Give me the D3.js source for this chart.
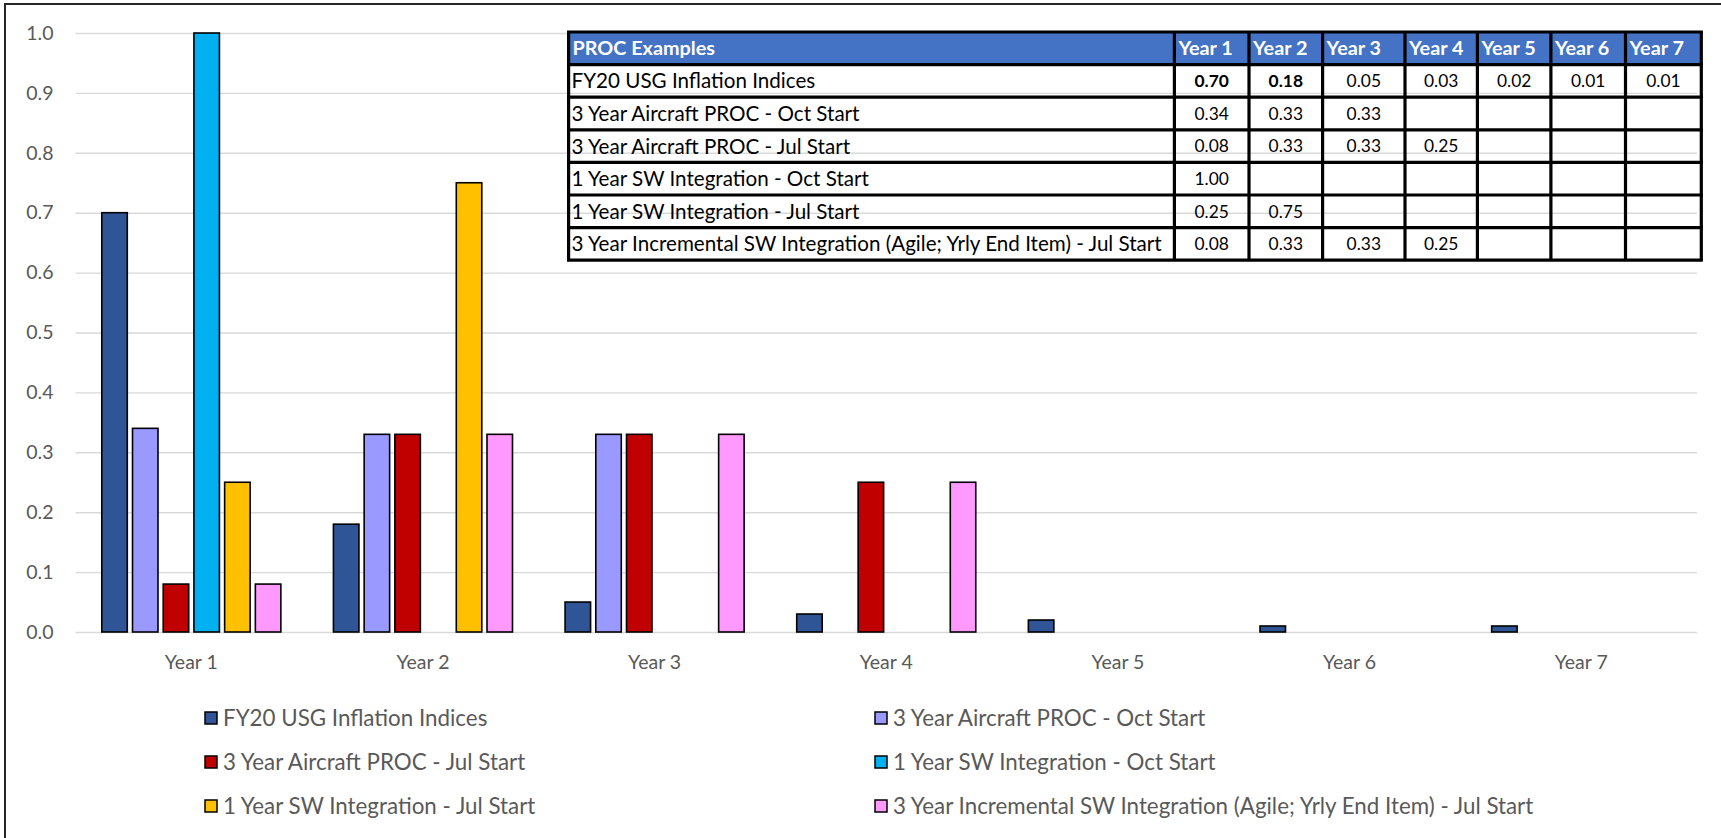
<!DOCTYPE html>
<html>
<head>
<meta charset="utf-8">
<script src="https://cdn.jsdelivr.net/npm/d3@7"></script>
<style>
  html, body { margin: 0; padding: 0; background: #fff; }
  svg { display: block; }
  text { font-family: Lato, "Open Sans", sans-serif; }
</style>
</head>
<body>
<svg id="chart" width="1721" height="838"></svg>
<script>
// ---- data -------------------------------------------------------------
const years = ["Year 1", "Year 2", "Year 3", "Year 4", "Year 5", "Year 6", "Year 7"];
const seriesNames = [
  "FY20 USG Inflation Indices",
  "3 Year Aircraft PROC - Oct Start",
  "3 Year Aircraft PROC - Jul Start",
  "1 Year SW Integration - Oct Start",
  "1 Year SW Integration - Jul Start",
  "3 Year Incremental SW Integration (Agile; Yrly End Item) - Jul Start"
];
const inflationIndices = [0.70, 0.18, 0.05, 0.03, 0.02, 0.01, 0.01];
const aircraftOct      = [0.34, 0.33, 0.33, null, null, null, null];
const aircraftJul      = [0.08, 0.33, 0.33, 0.25, null, null, null];
const swOct            = [1.00, null, null, null, null, null, null];
const swJul            = [0.25, 0.75, null, null, null, null, null];
const incrementalJul   = [0.08, 0.33, 0.33, 0.25, null, null, null];
const yTicks = [0, 0.1, 0.2, 0.3, 0.4, 0.5, 0.6, 0.7, 0.8, 0.9, 1.0];
const tableTitle = "PROC Examples";

const seriesValues = [inflationIndices, aircraftOct, aircraftJul, swOct, swJul, incrementalJul];
const colors = ["#2F5597", "#9999FF", "#C00000", "#00B0F0", "#FFC000", "#FF99FF"];

// ---- layout -----------------------------------------------------------
const svg = d3.select("#chart");
const plot = { left: 75.5, right: 1697, top: 33, bottom: 632 };
const textGrey = "#595959";

// outer frame (top and left edges)
svg.append("path")
  .attr("d", "M5,838V4H1721")
  .attr("fill", "none")
  .attr("stroke", "#262626")
  .attr("stroke-width", 2);

const x0 = d3.scaleBand()
  .domain(years)
  .range([plot.left, plot.right])
  .paddingInner(0.227)
  .paddingOuter(0.1135);

const x1 = d3.scaleBand()
  .domain(seriesNames)
  .range([0, x0.bandwidth()])
  .paddingInner(0.17);

const y = d3.scaleLinear().domain([0, 1]).range([plot.bottom, plot.top]);

// y axis with gridlines
const yAxis = svg.append("g")
  .attr("transform", `translate(${plot.left},0)`)
  .call(d3.axisLeft(y)
    .tickValues(yTicks)
    .tickSize(-(plot.right - plot.left))
    .tickPadding(22)
    .tickFormat(d3.format(".1f")));
yAxis.select(".domain").remove();
yAxis.selectAll(".tick line").attr("stroke", "#D9D9D9").attr("stroke-width", 1.4);
yAxis.selectAll(".tick text")
  .attr("fill", textGrey)
  .style("font-size", "19.5px");

// x axis labels
const xAxis = svg.append("g")
  .attr("transform", `translate(0,${plot.bottom})`)
  .call(d3.axisBottom(x0).tickSize(0).tickPadding(23));
xAxis.select(".domain").remove();
xAxis.selectAll(".tick text")
  .attr("fill", textGrey)
  .style("font-size", "19.5px");

// bars
const barData = [];
years.forEach((yr, i) => {
  seriesNames.forEach((s, j) => {
    const v = seriesValues[j][i];
    if (v !== null) barData.push({ year: yr, series: s, value: v, color: colors[j] });
  });
});

svg.append("g").selectAll("rect")
  .data(barData)
  .join("rect")
  .attr("x", d => x0(d.year) + x1(d.series))
  .attr("y", d => y(d.value))
  .attr("width", x1.bandwidth())
  .attr("height", d => y(0) - y(d.value))
  .attr("fill", d => d.color)
  .attr("stroke", "#000")
  .attr("stroke-width", 1.6);

// legend: two columns, three rows
const legendCols = [205, 875];
const legendRows = [718, 762, 806];
const legend = svg.append("g").selectAll("g")
  .data(seriesNames)
  .join("g")
  .attr("transform", (d, i) => `translate(${legendCols[i % 2]},${legendRows[Math.floor(i / 2)]})`);
legend.append("rect")
  .attr("x", 0).attr("y", -6)
  .attr("width", 12).attr("height", 12)
  .attr("fill", (d, i) => colors[i])
  .attr("stroke", "#000")
  .attr("stroke-width", 1.5);
legend.append("text")
  .attr("x", 18)
  .attr("dy", "0.35em")
  .attr("fill", textGrey)
  .style("font-size", "22.35px")
  .text(d => d);

// ---- data table -------------------------------------------------------
const colEdges = [568.6, 1174.4, 1249, 1322.6, 1405, 1477.4, 1550.9, 1625.5, 1701.3];
const tableTop = 32;
const rowH = 32.6;
const table = svg.append("g");
const fmt = d3.format(".2f");

// header row
table.append("rect")
  .attr("x", colEdges[0]).attr("y", tableTop)
  .attr("width", colEdges[colEdges.length - 1] - colEdges[0])
  .attr("height", rowH)
  .attr("fill", "#4472C4");
const headers = [tableTitle].concat(years);
table.selectAll("text.hdr")
  .data(headers)
  .join("text")
  .attr("class", "hdr")
  .attr("x", (d, i) => colEdges[i] + 4)
  .attr("y", tableTop + rowH / 2)
  .attr("dy", "0.36em")
  .attr("fill", "#fff")
  .style("font-size", "19.8px")
  .style("font-weight", "bold")
  .text(d => d);

// body rows
seriesNames.forEach((name, r) => {
  const ry = tableTop + rowH * (r + 1);
  const row = table.append("g");
  row.append("text")
    .attr("x", colEdges[0] + 3)
    .attr("y", ry + rowH / 2)
    .attr("dy", "0.36em")
    .attr("fill", "#000")
    .style("font-size", "20.6px")
    .text(name);
  row.selectAll("text.val")
    .data(seriesValues[r].map((v, i) => ({ v, i })).filter(d => d.v !== null))
    .join("text")
    .attr("class", "val")
    .attr("x", d => (colEdges[d.i + 1] + colEdges[d.i + 2]) / 2)
    .attr("y", ry + rowH / 2)
    .attr("dy", "0.36em")
    .attr("text-anchor", "middle")
    .attr("fill", "#000")
    .style("font-size", "17.4px")
    .style("font-weight", d => (r === 0 && d.i < 2) ? "bold" : "normal")
    .text(d => fmt(d.v));
});

// cell borders
const tableBottom = tableTop + rowH * (seriesNames.length + 1);
const gridLines = table.append("g")
  .attr("stroke", "#000")
  .attr("stroke-width", 3.2);
d3.range(seriesNames.length + 2).forEach(r => {
  gridLines.append("line")
    .attr("x1", colEdges[0] - 1.6).attr("x2", colEdges[colEdges.length - 1] + 1.6)
    .attr("y1", tableTop + rowH * r).attr("y2", tableTop + rowH * r);
});
colEdges.forEach(cx => {
  gridLines.append("line")
    .attr("x1", cx).attr("x2", cx)
    .attr("y1", tableTop).attr("y2", tableBottom);
});
</script>
</body>
</html>
